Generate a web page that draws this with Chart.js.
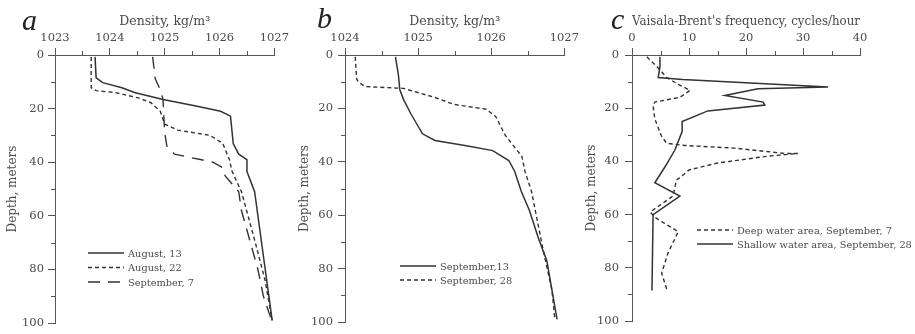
<!DOCTYPE html>
<html>
<head>
<meta charset="utf-8">
<script src="https://cdn.jsdelivr.net/npm/chart.js@4"></script>
<style>
  body { margin: 0; background: #fff; }
  #wrap { position: relative; width: 915px; height: 334px; }
  canvas { position: absolute; top: 0; }
</style>
</head>
<body>
<div id="wrap">
  <canvas id="panelA" width="292" height="334" style="left:0px"></canvas>
  <canvas id="panelB" width="290" height="334" style="left:292px"></canvas>
  <canvas id="panelC" width="333" height="334" style="left:582px"></canvas>
</div>
<script>
// panel a: density profiles
const aug13Depth = [0.7, 8.5, 10.3, 12.2, 14, 16.6, 19, 21, 22.8, 33, 37, 39, 43.5, 51, 69, 99];
const aug13Dens  = [1023.73, 1023.75, 1023.87, 1024.22, 1024.45, 1024.97, 1025.57, 1026.02, 1026.2, 1026.25, 1026.35, 1026.5, 1026.5, 1026.64, 1026.76, 1026.96];
const aug22Depth = [0.7, 12.2, 13.3, 14, 16, 17.8, 21, 25.8, 28, 30, 33, 39, 43.5, 51, 69, 84, 99];
const aug22Dens  = [1023.66, 1023.66, 1023.75, 1024.1, 1024.52, 1024.75, 1024.92, 1025.0, 1025.24, 1025.83, 1026.06, 1026.18, 1026.23, 1026.4, 1026.64, 1026.83, 1026.96];
const sep7Depth  = [0.7, 9, 13, 16.6, 29, 34, 37, 39, 40, 42, 45, 51, 58, 69, 80, 90, 99.6];
const sep7Dens   = [1024.78, 1024.83, 1024.92, 1024.97, 1025.0, 1025.04, 1025.18, 1025.65, 1025.88, 1026.06, 1026.1, 1026.35, 1026.4, 1026.55, 1026.7, 1026.8, 1026.96];

// panel b
const sep13Depth = [0.7, 7.4, 13, 16.6, 22, 29.5, 32, 34, 35.8, 39.5, 43.5, 51, 58, 69, 77, 99];
const sep13Dens  = [1024.69, 1024.73, 1024.75, 1024.8, 1024.9, 1025.06, 1025.23, 1025.66, 1026.02, 1026.24, 1026.32, 1026.41, 1026.52, 1026.65, 1026.76, 1026.9];
const sep28Depth = [0.7, 9, 10, 11.8, 12.5, 15.9, 18.5, 20.3, 23, 30, 38, 43.5, 51, 62, 73, 88, 99];
const sep28Dens  = [1024.14, 1024.16, 1024.18, 1024.27, 1024.8, 1025.23, 1025.49, 1025.93, 1026.06, 1026.19, 1026.42, 1026.46, 1026.55, 1026.63, 1026.71, 1026.83, 1026.87];

// panel c: Vaisala-Brent frequency
const deepDepth = [0.7, 4.4, 8.5, 11, 13.3, 15.9, 17.7, 19, 24, 30.6, 33.2, 34, 35, 37, 37, 38, 40.6, 43.2, 45.4, 47, 53, 59, 61, 66.4, 74.5, 82, 88];
const deepFreq  = [2.6, 4.4, 6.1, 8.1, 10.2, 8.4, 4, 3.7, 4, 5.2, 6.1, 9.3, 18, 26.8, 29.1, 23.9, 15, 10, 8.8, 7.8, 7.2, 3.2, 4, 8.1, 6.3, 5.2, 6.1];
const shallowDepth = [0.7, 4.4, 8.5, 9.2, 12, 12.7, 15.2, 17.7, 18.8, 21, 25, 28.8, 35.8, 42, 48, 53, 60, 88.5];
const shallowFreq  = [4.9, 4.9, 4.6, 8.9, 34.4, 22.1, 16.3, 23, 23.3, 13.3, 8.8, 8.8, 7.5, 5.8, 4, 8.4, 3.7, 3.5];

const depthTicks = [0, 20, 40, 60, 80, 100];

const FONT = "'DejaVu Serif', 'Liberation Serif', serif";
const TEXT = '#4a4a4a';
const AXIS = '#555';
const LINE = '#333';
const SOLID = [];
const DOTTED = [4, 3];
const DASHED = [12, 8];

function pts(xs, ys) {
  return xs.map((v, i) => ({ x: v, y: ys[i] }));
}

function serie(label, xs, ys, dash) {
  return {
    label,
    data: pts(xs, ys),
    borderColor: LINE,
    borderWidth: dash.length ? 1.4 : 1.5,
    borderDash: dash,
    showLine: true,
    pointRadius: 0,
    tension: 0
  };
}

// minor ticks halfway between the library's ticks
const minorTicks = {
  id: 'minorTicks',
  afterDraw(chart) {
    const { ctx } = chart;
    const sx = chart.scales.x, sy = chart.scales.y;
    ctx.save();
    ctx.strokeStyle = AXIS;
    ctx.lineWidth = 1;
    ctx.beginPath();
    for (let i = 0; i < sx.ticks.length - 1; i++) {
      const px = Math.round(sx.getPixelForValue((sx.ticks[i].value + sx.ticks[i + 1].value) / 2)) + 0.5;
      ctx.moveTo(px, sx.bottom);
      ctx.lineTo(px, sx.bottom - 4);
    }
    for (let i = 0; i < sy.ticks.length - 1; i++) {
      const py = Math.round(sy.getPixelForValue((sy.ticks[i].value + sy.ticks[i + 1].value) / 2)) + 0.5;
      ctx.moveTo(sy.right, py);
      ctx.lineTo(sy.right - 4, py);
    }
    ctx.stroke();
    ctx.restore();
  }
};

// hand-placed legend + panel letter
const decor = {
  id: 'decor',
  afterDraw(chart, args, o) {
    const { ctx } = chart;
    ctx.save();
    ctx.fillStyle = '#222';
    ctx.font = "italic 30px 'Liberation Serif', serif";
    ctx.textBaseline = 'alphabetic';
    ctx.fillText(o.letter, o.lx, o.ly);

    ctx.font = "9.8px " + FONT;
    ctx.textBaseline = 'middle';
    chart.data.datasets.forEach((ds, i) => {
      const y = o.legY + i * o.legRow;
      ctx.strokeStyle = ds.borderColor;
      ctx.lineWidth = ds.borderWidth;
      ctx.setLineDash(ds.borderDash);
      ctx.beginPath();
      ctx.moveTo(o.legX, y);
      ctx.lineTo(o.legX + 36, y);
      ctx.stroke();
      ctx.setLineDash([]);
      ctx.fillStyle = TEXT;
      ctx.fillText(ds.label, o.legX + 40, y + 1);
    });
    ctx.restore();
  }
};

function makePanel(id, datasets, x, pad, deco) {
  return new Chart(document.getElementById(id), {
    type: 'scatter',
    data: { datasets },
    plugins: [minorTicks, decor],
    options: {
      responsive: false,
      animation: false,
      layout: { padding: { left: 0, right: pad.right, top: 0, bottom: 8 } },
      plugins: {
        legend: { display: false },
        tooltip: { enabled: false },
        decor: deco
      },
      scales: {
        x: {
          type: 'linear',
          position: 'top',
          min: x.min,
          max: x.max,
          ticks: {
            stepSize: x.step,
            padding: 3,
            color: TEXT,
            font: { family: FONT, size: 11.5 },
            callback: v => String(v)
          },
          grid: { drawOnChartArea: false, tickLength: 7, tickColor: AXIS },
          border: { display: true, color: AXIS, width: 1 },
          title: {
            display: true,
            text: x.title,
            color: TEXT,
            font: { family: FONT, size: x.titleSize, lineHeight: 1 },
            padding: { top: 15, bottom: 0 }
          },
          afterFit(s) { s.height = 55; }
        },
        y: {
          type: 'linear',
          reverse: true,
          min: 0,
          max: 100,
          afterBuildTicks(s) { s.ticks = depthTicks.map(v => ({ value: v })); },
          ticks: {
            padding: pad.tickPad,
            color: TEXT,
            font: { family: FONT, size: 11.5 }
          },
          grid: { drawOnChartArea: false, tickLength: 7, tickColor: AXIS },
          border: { display: true, color: AXIS, width: 1 },
          title: {
            display: true,
            text: 'Depth, meters',
            color: TEXT,
            font: { family: FONT, size: 12, lineHeight: 1 },
            padding: { top: pad.titlePad, bottom: 0 }
          },
          afterFit(s) { s.width = pad.left; }
        }
      }
    }
  });
}

makePanel('panelA', [
  serie('August, 13', aug13Dens, aug13Depth, SOLID),
  serie('August, 22', aug22Dens, aug22Depth, DOTTED),
  serie('September, 7', sep7Dens, sep7Depth, DASHED)
], { min: 1023, max: 1027, step: 1, title: 'Density, kg/m³', titleSize: 12.5 },
   { left: 55, right: 8, tickPad: 4, titlePad: 7 },
   { letter: 'a', lx: 22, ly: 30, legX: 88, legY: 253, legRow: 14.5 });

makePanel('panelB', [
  serie('September,13', sep13Dens, sep13Depth, SOLID),
  serie('September, 28', sep28Dens, sep28Depth, DOTTED)
], { min: 1024, max: 1027, step: 1, title: 'Density, kg/m³', titleSize: 12.5 },
   { left: 53, right: 7, tickPad: 5, titlePad: 7 },
   { letter: 'b', lx: 25, ly: 28, legX: 108, legY: 266, legRow: 14 });

makePanel('panelC', [
  serie('Deep water area, September, 7', deepFreq, deepDepth, DOTTED),
  serie('Shallow water area, September, 28', shallowFreq, shallowDepth, SOLID)
], { min: 0, max: 40, step: 10, title: "Vaisala-Brent's frequency, cycles/hour", titleSize: 12.9 },
   { left: 50, right: 55, tickPad: 6, titlePad: 4 },
   { letter: 'c', lx: 29, ly: 29, legX: 115, legY: 230, legRow: 14 });
</script>
</body>
</html>
